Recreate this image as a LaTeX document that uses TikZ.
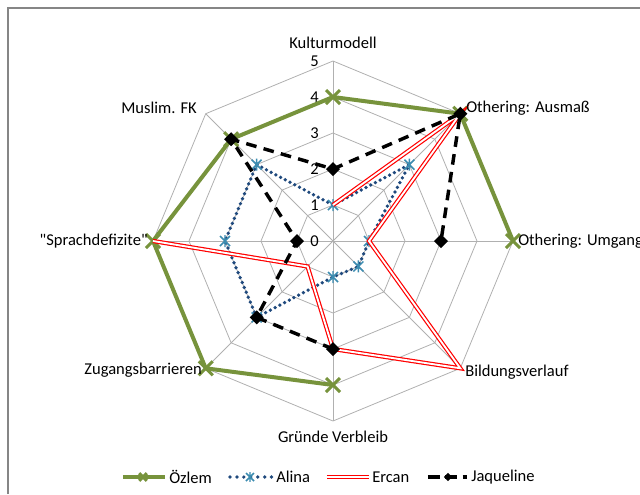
\documentclass[tikz,border=0pt]{standalone}
\usepackage{fontspec}
\setmainfont{Carlito}[Ligatures=TeXOff]
\usetikzlibrary{arrows.meta}

\definecolor{ozgreen}{RGB}{119,147,60}
\definecolor{alblue}{RGB}{31,73,125}
\definecolor{alstar}{RGB}{60,140,176}
\definecolor{gridgray}{RGB}{176,176,176}
\definecolor{framegray}{RGB}{134,134,134}

\tikzset{
  gridline/.style={draw=gridgray, line width=0.6pt},
  ozline/.style={draw=ozgreen, line width=3pt, line join=round},
  alline/.style={draw=alblue, line width=2.8pt, line cap=round, dash pattern=on 0pt off 4pt},
  erline/.style={draw=red, double=white, line width=0.9pt, double distance=1.4pt},
  jaline/.style={draw=black, line width=2.6pt, dash pattern=on 8pt off 5.5pt},
  catlabel/.style={inner sep=0pt},
  ozmark/.pic={\draw[ozgreen, line width=2.2pt] (-7,-7) -- (7,7) (-7,7) -- (7,-7);},
  almark/.pic={\draw[alstar, line width=1.1pt] (-5,-5) -- (5,5) (-5,5) -- (5,-5) (0,-6) -- (0,6);},
  jamark/.pic={\fill[black] (-7,0) -- (0,7) -- (7,0) -- (0,-7) -- cycle;}
}

\begin{document}
\begin{tikzpicture}[line cap=butt,line join=miter,x=0.75pt,y=0.75pt]
  \useasboundingbox (-333,-253) rectangle (307,241);
  \draw [draw=framegray, line width=1.1pt] (-325,-253) -- (-325,233) -- (307,233);
  % grid
  \foreach \r in {1,...,5}
    \draw [gridline] (90:36*\r) \foreach \k in {1,...,7} { -- ({90-45*\k}:36*\r) } -- cycle;
  \foreach \k in {0,...,7}
    \draw [gridline] (0,0) -- ({90-45*\k}:180);
  \foreach \v in {0,...,5}
    \node [catlabel, anchor=east] (tick\v) at (-14,36*\v) {\fontsize{12.4pt}{14pt}\selectfont\v};
  % data
  \foreach \i/\v in {0/4,1/5,2/5,4/4,5/5,6/5,7/4}
    \coordinate (oz\i) at ({90-45*\i}:{36*\v});
  \foreach \i/\v in {0/1,1/3,2/1,3/1,4/1,5/3,6/3,7/3}
    \coordinate (al\i) at ({90-45*\i}:{36*\v});
  \foreach \i/\v in {0/1,1/5,2/1,3/5,4/3,5/1,6/5}
    \coordinate (er\i) at ({90-45*\i}:{36*\v});
  \foreach \i/\v in {0/2,1/5,2/3,4/3,5/3,6/1,7/4}
    \coordinate (ja\i) at ({90-45*\i}:{36*\v});
  \draw [ozline] (oz4) -- (oz5) -- (oz6) -- (oz7) -- (oz0) -- (oz1) -- (oz2);
  \foreach \i in {0,1,2,4,5,6,7}
    \pic at (oz\i) {ozmark};
  \draw [alline] (al0) -- (al1) -- (al2) -- (al3) -- (al4) -- (al5) -- (al6) -- (al7) -- cycle;
  \foreach \i in {0,...,7}
    \pic at (al\i) {almark};
  \draw [erline] (er0) -- (er1) -- (er2) -- (er3) -- (er4) -- (er5) -- (er6);
  \draw [jaline] (ja4) -- (ja5) -- (ja6) -- (ja7) -- (ja0) -- (ja1) -- (ja2);
  \foreach \i in {0,1,2,4,5,6,7}
    \pic at (ja\i) {jamark};
  % labels
  \begingroup
  \fontsize{12.4pt}{14pt}\selectfont
  \node [catlabel] (kult) at (0,198) {Kulturmodell};
  \node [catlabel, anchor=west] (ausm) at (133,133) {Othering: Ausmaß};
  \node [catlabel, anchor=west] (umg) at (185,0) {Othering: Umgang};
  \node [catlabel, anchor=west] (bild) at (132,-131) {Bildungsverlauf};
  \node [catlabel] (gruen) at (0,-196) {Gründe Verbleib};
  \node [catlabel, anchor=east] (zug) at (-131,-129) {Zugangsbarrieren};
  \node [catlabel, anchor=east] (sprach) at (-185,0) {"Sprachdefizite"};
  \node [catlabel, anchor=east] (musl) at (-136,133) {Muslim. FK};
  % legend
  \coordinate (lgoz1) at (-210,-236);
  \coordinate (lgoz2) at (-168,-236);
  \draw [ozline] (lgoz1) -- (lgoz2);
  \pic [scale=0.55] at (-190,-236) {ozmark};
  \node [catlabel, anchor=west] (lgoz) at (-164,-236) {Özlem};
  \coordinate (lgal1) at (-103,-236);
  \coordinate (lgal2) at (-61,-236);
  \draw [alline, dash pattern=on 0pt off 5.2pt] (lgal1) -- (lgal2);
  \pic [scale=0.8] at (-83,-236) {almark};
  \node [catlabel, anchor=west] (lgal) at (-57,-236) {Alina};
  \coordinate (lger1) at (-6,-236);
  \coordinate (lger2) at (36,-236);
  \draw [erline] (lger1) -- (lger2);
  \node [catlabel, anchor=west] (lger) at (39,-236) {Ercan};
  \coordinate (lgja1) at (95,-236);
  \coordinate (lgja2) at (134,-236);
  \draw [jaline, dash pattern=on 9pt off 4pt] (lgja1) -- (lgja2);
  \pic [scale=0.6] at (115,-236) {jamark};
  \node [catlabel, anchor=west] (lgja) at (138,-236) {Jaqueline};
  \endgroup
\end{tikzpicture}
\end{document}
